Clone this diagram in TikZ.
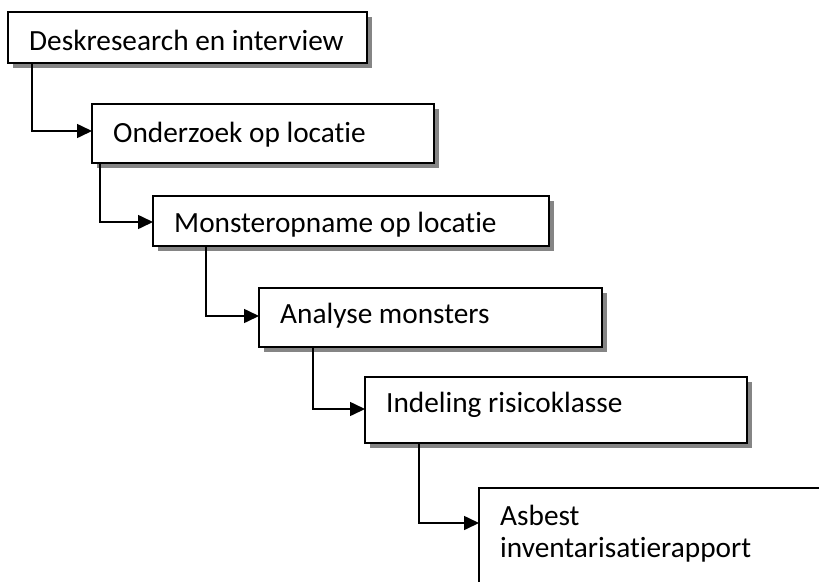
\documentclass[tikz,border=0pt]{standalone}
\usepackage{fontspec}
\setmainfont{Carlito}[Ligatures=NoCommon]
\usetikzlibrary{arrows.meta}
\begin{document}
\begin{tikzpicture}[x=1pt,y=-1pt,
  box/.style={draw, line width=1.6pt, fill=white, anchor=north west, inner sep=0pt, outer sep=0pt},
  shade/.style={fill=black!48, draw=none},
  txt/.style={anchor=base west, inner sep=0pt, font=\fontsize{29.3}{32}\selectfont, align=left},
  arr/.style={line width=1.6pt, -{Triangle[length=15pt,width=14pt]}}]
\useasboundingbox (0,0) rectangle (819,581);
\clip (0,0) rectangle (819,581);
% shadows
\fill[shade] (13,17) rectangle ++(359,51);
\fill[shade] (97,109) rectangle ++(342,59);
\fill[shade] (158,201) rectangle ++(396,50);
\fill[shade] (264,293) rectangle ++(343,59);
\fill[shade] (370,382) rectangle ++(382,66);
\fill[shade] (484,493) rectangle ++(400,140);
% boxes
\node[box, minimum width=359pt, minimum height=51pt] (b1) at (8,12) {};
\node[box, minimum width=342pt, minimum height=59pt] (b2) at (92,104) {};
\node[box, minimum width=396pt, minimum height=50pt] (b3) at (153,196) {};
\node[box, minimum width=343pt, minimum height=59pt] (b4) at (259,288) {};
\node[box, minimum width=382pt, minimum height=66pt] (b5) at (365,377) {};
\node[box, minimum width=400pt, minimum height=140pt] (b6) at (479,488) {};
% texts
\node[txt] (t1) at ([xshift=21pt,yshift=-38pt]b1.north west) {Deskresearch en interview};
\node[txt] (t2) at ([xshift=21pt,yshift=-38pt]b2.north west) {Onderzoek op locatie};
\node[txt] (t3) at ([xshift=21pt,yshift=-36pt]b3.north west) {Monsteropname op locatie};
\node[txt] (t4) at ([xshift=21pt,yshift=-35pt]b4.north west) {Analyse monsters};
\node[txt] (t5) at ([xshift=21pt,yshift=-35pt]b5.north west) {Indeling risicoklasse};
\node[txt] (t6) at ([xshift=21pt,yshift=-69pt]b6.north west) {Asbest\\inventarisatierapport};
% connectors
\draw[arr] ([xshift=24pt]b1.south west) |- ([yshift=-27pt]b2.north west);
\draw[arr] ([xshift=8pt]b2.south west) |- ([yshift=-26pt]b3.north west);
\draw[arr] ([xshift=53pt]b3.south west) |- ([yshift=-28pt]b4.north west);
\draw[arr] ([xshift=54pt]b4.south west) |- ([yshift=-32pt]b5.north west);
\draw[arr] ([xshift=54pt]b5.south west) |- ([yshift=-35pt]b6.north west);
\end{tikzpicture}
\end{document}
